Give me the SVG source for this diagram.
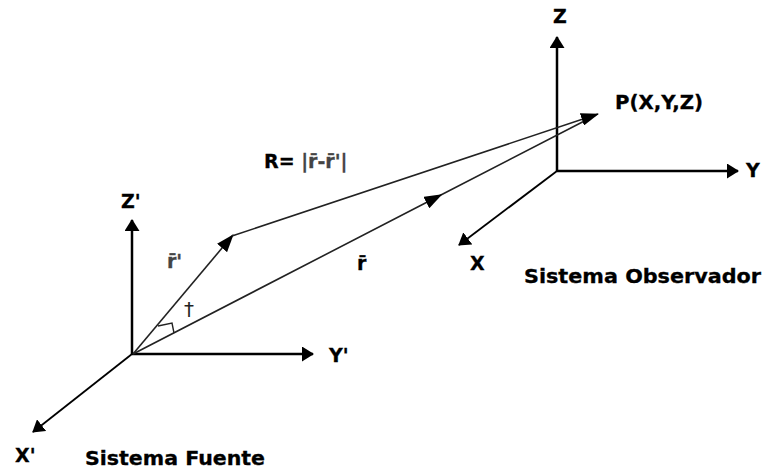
<svg xmlns="http://www.w3.org/2000/svg" width="763" height="471" viewBox="0 0 763 471">
<style>
.axis{stroke:#000;stroke-width:2.5;fill:none;marker-end:url(#ah)}
.vec{stroke:#222;stroke-width:1.6;fill:none}
.lbl{font-family:"DejaVu Sans","Verdana",sans-serif;font-weight:bold;font-size:19px;fill:#000;stroke:#000;stroke-width:0.3}
.gray{fill:#444;stroke:#444}
</style>
<defs>
<marker id="ah" viewBox="0 0 12 15" refX="11" refY="7.5" markerWidth="12" markerHeight="15" markerUnits="userSpaceOnUse" orient="auto">
<path d="M0,0 L12,7.5 L0,15 z" fill="#000"/>
</marker>
<marker id="va" viewBox="0 0 18 13" refX="17" refY="6.5" markerWidth="18" markerHeight="13" markerUnits="userSpaceOnUse" orient="auto">
<path d="M0,0 L18,6.5 L0,13 z" fill="#000"/>
</marker>
<marker id="vm" viewBox="0 0 18 13" refX="12" refY="6.5" markerWidth="18" markerHeight="13" markerUnits="userSpaceOnUse" orient="auto">
<path d="M0,0 L18,6.5 L0,13 z" fill="#000"/>
</marker>
</defs>
<g id="observer-system">
<line class="axis" x1="557" y1="171" x2="557" y2="37"/>
<line class="axis" x1="557" y1="171" x2="738" y2="171"/>
<line class="axis" x1="557" y1="171" x2="459" y2="245" style="stroke-width:1.8"/>
<text class="lbl" x="553" y="23">Z</text>
<text class="lbl" x="746" y="177">Y</text>
<text class="lbl" x="470" y="270">X</text>
<text class="lbl" x="524" y="283" textLength="237" lengthAdjust="spacingAndGlyphs">Sistema Observador</text>
</g>
<g id="source-system">
<line class="axis" x1="132" y1="354" x2="132" y2="220"/>
<line class="axis" x1="132" y1="354" x2="313" y2="354"/>
<line class="axis" x1="132" y1="354" x2="33" y2="432" style="stroke-width:1.8"/>
<text class="lbl" x="121" y="208">Z'</text>
<text class="lbl" x="329" y="362">Y'</text>
<text class="lbl" x="15" y="462">X'</text>
<text class="lbl" x="85" y="465" textLength="180" lengthAdjust="spacingAndGlyphs">Sistema Fuente</text>
</g>
<g id="point-P">
<text class="lbl" x="615" y="109" textLength="88" lengthAdjust="spacingAndGlyphs">P(X,Y,Z)</text>
</g>
<g id="connectors">
<path class="vec" d="M133,354 L437,197 L596,115" style="marker-mid:url(#vm)"/>
<path class="vec" d="M133,354 L233,235" style="marker-end:url(#va)"/>
<path class="vec" d="M232,236 L598,114" style="marker-end:url(#va)"/>
<polyline points="158,326 172,323 174,333" fill="none" stroke="#222" stroke-width="1.4"/>
</g>
<g id="labels">
<text class="lbl" x="264" y="168">R= <tspan class="gray">|r̄-r̄'|</tspan></text>
<text class="lbl gray" x="167" y="268">r̄'</text>
<text class="lbl" x="357" y="270">r̄</text>
<text x="184" y="316" style="font-family:'DejaVu Sans',sans-serif;font-size:20px;fill:#222">†</text>
</g>
</svg>
